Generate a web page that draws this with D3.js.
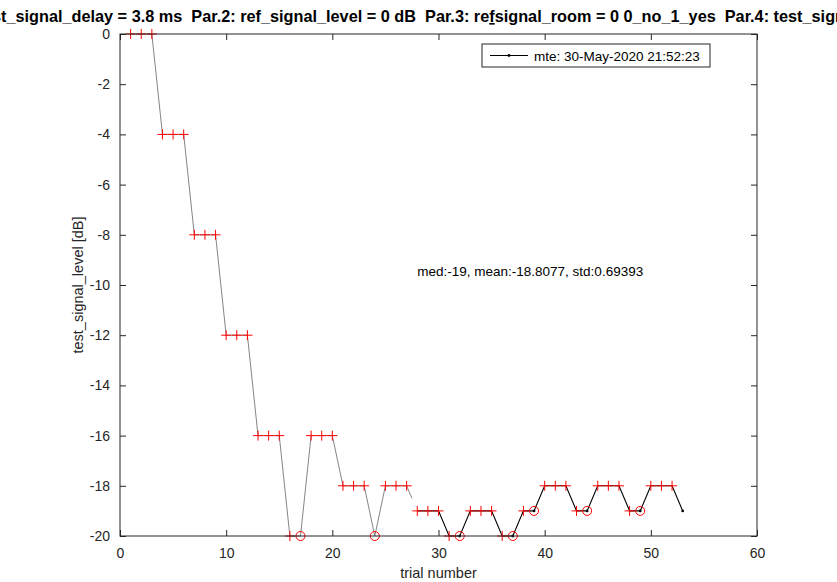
<!DOCTYPE html>
<html>
<head>
<meta charset="utf-8">
<script src="https://cdn.jsdelivr.net/npm/d3@7"></script>
<style>
  body { margin: 0; background: #fff; }
  svg { display: block; font-family: Helvetica, "Liberation Sans", Arial, sans-serif; }
  .title { white-space: pre; }
</style>
</head>
<body>
<svg id="chart" width="837" height="582"></svg>
<script>
/* eslint-env browser */
/* global d3: false */

// test level for each trial (trial = index + 1)
const levels = [
  0, 0, 0, -4, -4, -4, -8, -8, -8, -12, -12, -12, -16, -16, -16, -20, -20,
  -16, -16, -16, -18, -18, -18, -20, -18, -18, -18,
  -19, -19, -19, -20, -20, -19, -19, -19, -20, -20, -19, -19,
  -18, -18, -18, -19, -19, -18, -18, -18, -19, -19, -18, -18, -18, -19];
const reversals = [17, 24, 32, 37, 39, 44, 49];
const lastMarkedTrial = 52;
const secondRunStart = 28;
const xTicks = [0, 10, 20, 30, 40, 50, 60];
const yTicks = [0, -2, -4, -6, -8, -10, -12, -14, -16, -18, -20];
const titleParts = [
  'Par.1: tes',
  't_signal_delay = 3.8 ms  Par.2: ref_signal_level = 0 dB  Par.3: re',
  'f',
  'signal_room = 0 0_no_1_yes  Par.4: test_sig',
  'nal_level = -20 dB'];
const legendLabel = 'mte: 30-May-2020 21:52:23';
const statsLabel = 'med:-19, mean:-18.8077, std:0.69393';

const svg = d3.select('#chart');
const margin = { left: 120, right: 80, top: 34, bottom: 46 };
const width = 837 - margin.left - margin.right;
const height = 582 - margin.top - margin.bottom;
const axisColor = '#262626';

const x = d3.scaleLinear().domain([0, 60]).range([margin.left, margin.left + width]);
const y = d3.scaleLinear().domain([-20, 0]).range([margin.top + height, margin.top]);

const points = levels.map((v, i) => ({ t: i + 1, v }));

// title is wider than the window: the visible part runs from edge to edge
function measure(str, size) {
  const t = svg.append('text').attr('class', 'title')
    .attr('font-size', size).attr('font-weight', 'bold').text(str);
  const w = t.node().getComputedTextLength();
  t.remove();
  return w;
}
const visible = titleParts.slice(1, 4).join('');
const titleSize = 14.5 * 835 / measure(visible, 14.5);
const prefixW = measure(titleParts[0], titleSize);

const title = svg.append('text')
  .attr('class', 'title')
  .attr('x', 1 - prefixW)
  .attr('y', 22)
  .attr('font-size', titleSize)
  .attr('font-weight', 'bold')
  .attr('fill', '#000');
titleParts.forEach((p, i) => {
  const span = title.append('tspan').text(p);
  if (i === 2) span.attr('text-decoration', 'underline');
});

// first run: thin grey line, ends halfway towards the second run
const firstRun = points.filter(d => d.t < secondRunStart);
const lastA = points[secondRunStart - 2];
const firstB = points[secondRunStart - 1];
firstRun.push({ t: (lastA.t + firstB.t) / 2, v: (lastA.v + firstB.v) / 2 });

const line = d3.line().x(d => x(d.t)).y(d => y(d.v));

svg.append('path')
  .attr('d', line(firstRun))
  .attr('fill', 'none')
  .attr('stroke', '#777')
  .attr('stroke-width', 0.9);

svg.append('path')
  .attr('d', line(points.filter(d => d.t >= secondRunStart)))
  .attr('fill', 'none')
  .attr('stroke', '#000')
  .attr('stroke-width', 1.1);

// red plus markers
const plus = points.filter(d => d.t <= lastMarkedTrial && !reversals.includes(d.t));
svg.append('g')
  .selectAll('path')
  .data(plus)
  .join('path')
  .attr('d', d => `M${x(d.t) - 5},${y(d.v)}h10M${x(d.t)},${y(d.v) - 5}v10`)
  .attr('stroke', '#f00')
  .attr('stroke-width', 1);

// red circles at reversals
svg.append('g')
  .selectAll('circle')
  .data(points.filter(d => reversals.includes(d.t)))
  .join('circle')
  .attr('cx', d => x(d.t))
  .attr('cy', d => y(d.v))
  .attr('r', 4.5)
  .attr('fill', 'none')
  .attr('stroke', '#f00')
  .attr('stroke-width', 1);

// black dots on the second run
svg.append('g')
  .selectAll('circle')
  .data(points.filter(d => d.t >= secondRunStart && (reversals.includes(d.t) || d.t > lastMarkedTrial)))
  .join('circle')
  .attr('cx', d => x(d.t))
  .attr('cy', d => y(d.v))
  .attr('r', 1.4)
  .attr('fill', '#000');

// axes box with inward ticks
const tickLen = 6;
const plain = d => String(d);
const axisStyle = g => {
  g.select('.domain').remove();
  g.selectAll('line').attr('stroke', axisColor);
  g.selectAll('text').attr('fill', axisColor).attr('font-size', 14)
    .attr('font-family', 'Helvetica, "Liberation Sans", Arial, sans-serif');
};

svg.append('g')
  .attr('transform', `translate(0,${margin.top + height})`)
  .call(d3.axisBottom(x).tickValues(xTicks).tickSize(-tickLen).tickPadding(12).tickFormat(plain))
  .call(axisStyle);
svg.append('g')
  .attr('transform', `translate(0,${margin.top})`)
  .call(d3.axisTop(x).tickValues(xTicks).tickSize(-tickLen).tickFormat(''))
  .call(axisStyle);
svg.append('g')
  .attr('transform', `translate(${margin.left},0)`)
  .call(d3.axisLeft(y).tickValues(yTicks).tickSize(-tickLen).tickPadding(10).tickFormat(plain))
  .call(axisStyle);
svg.append('g')
  .attr('transform', `translate(${margin.left + width},0)`)
  .call(d3.axisRight(y).tickValues(yTicks).tickSize(-tickLen).tickFormat(''))
  .call(axisStyle);

svg.append('rect')
  .attr('x', margin.left)
  .attr('y', margin.top)
  .attr('width', width)
  .attr('height', height)
  .attr('fill', 'none')
  .attr('stroke', axisColor)
  .attr('stroke-width', 1);

// axis labels
svg.append('text')
  .attr('x', margin.left + width / 2)
  .attr('y', 578)
  .attr('text-anchor', 'middle')
  .attr('font-size', 14.5)
  .attr('fill', axisColor)
  .text('trial number');

svg.append('text')
  .attr('transform', `translate(83,${margin.top + height / 2}) rotate(-90)`)
  .attr('text-anchor', 'middle')
  .attr('font-size', 14.5)
  .attr('fill', axisColor)
  .text('test_signal_level [dB]');

// stats annotation
svg.append('text')
  .attr('x', x(28))
  .attr('y', y(-9.44) + 5)
  .attr('font-size', 13.5)
  .attr('fill', '#000')
  .text(statsLabel);

// legend
const legend = svg.append('g').attr('transform', 'translate(482,44)');
legend.append('rect')
  .attr('width', 228)
  .attr('height', 23)
  .attr('fill', '#fff')
  .attr('stroke', axisColor)
  .attr('stroke-width', 1);
legend.append('line')
  .attr('x1', 8).attr('x2', 46)
  .attr('y1', 11.5).attr('y2', 11.5)
  .attr('stroke', '#000');
legend.append('circle')
  .attr('cx', 27).attr('cy', 11.5).attr('r', 1.4)
  .attr('fill', '#000');
legend.append('text')
  .attr('x', 52)
  .attr('y', 16.5)
  .attr('font-size', 13.5)
  .attr('fill', '#000')
  .text(legendLabel);
</script>
</body>
</html>
